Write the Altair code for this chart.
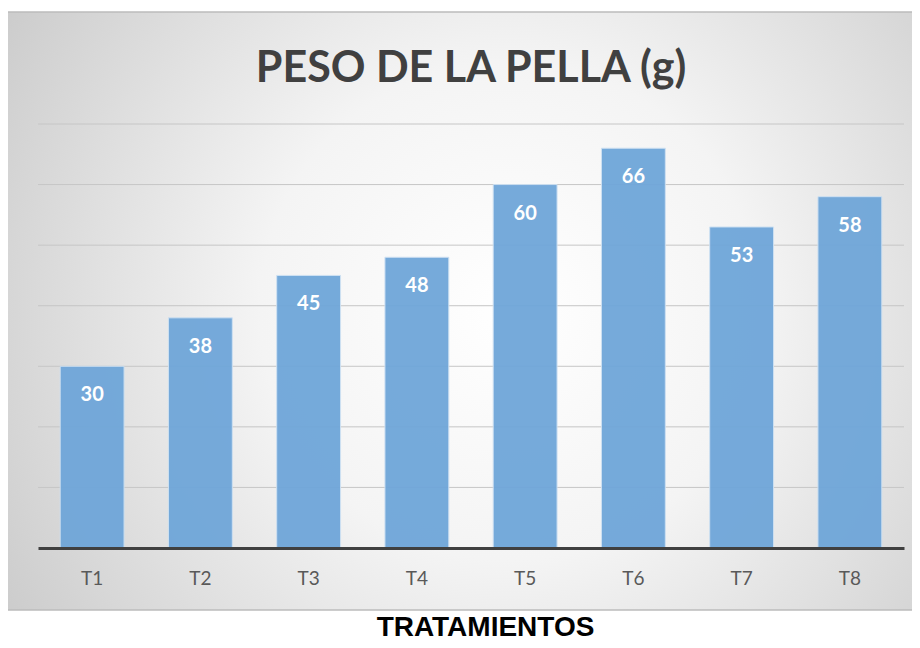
import altair as alt
import pandas as pd

categories = ["T1", "T2", "T3", "T4", "T5", "T6", "T7", "T8"]
values = [30, 38, 45, 48, 60, 66, 53, 58]
grid_values = [10, 20, 30, 40, 50, 60, 70]

df = pd.DataFrame({"trat": categories, "peso": values})
grid_df = pd.DataFrame({"g": grid_values})

W, H = 866, 424

bg_gradient = {
    "gradient": "radial",
    "x1": 0.55, "y1": 0.5, "r1": 0.0,
    "x2": 0.55, "y2": 0.5, "r2": 0.78,
    "stops": [
        {"offset": 0.0, "color": "#ffffff"},
        {"offset": 0.35, "color": "#f4f4f4"},
        {"offset": 1.0, "color": "#bdbdbd"},
    ],
}

yscale = alt.Scale(domain=[0, 70], nice=False)

background = alt.Chart(alt.Data(values=[{"k": 1}])).mark_rect(
    fill=bg_gradient, stroke="#bcbcbc", strokeWidth=1.5
).encode(
    x=alt.value(-31), x2=alt.value(W + 16),
    y=alt.value(-112), y2=alt.value(H + 62),
)

grid = alt.Chart(grid_df).mark_rule(color="#c6c6c6", strokeWidth=1).encode(
    y=alt.Y("g:Q", scale=yscale, axis=None),
    x=alt.value(0), x2=alt.value(W),
)

xenc = alt.X(
    "trat:N", sort=categories,
    scale=alt.Scale(paddingInner=0.41, paddingOuter=0.205),
    axis=alt.Axis(
        title="TRATAMIENTOS", titleFont="Liberation Sans", titleFontSize=28,
        titleFontWeight="bold", titleColor="#000000", titleBaseline="alphabetic",
        titleX=447, titleY=87, titleAnchor="start", titleAlign="center",
        labelFont="Lato", labelFontSize=19, labelColor="#595959", labelAngle=0,
        labelPadding=21, ticks=False, tickSize=0,
        domainColor="#404040", domainWidth=3, grid=False, zindex=1,
    ),
)
yenc = alt.Y("peso:Q", scale=yscale, axis=None)

bars = alt.Chart(df).mark_bar(
    color="#6fa6d9", stroke="#cde0f2", strokeWidth=1, opacity=0.95
).encode(x=xenc, y=yenc)

labels = alt.Chart(df).mark_text(
    font="Lato", fontSize=20, fontWeight="bold", color="#ffffff",
    baseline="alphabetic", dy=35,
).encode(
    x=alt.X("trat:N", sort=categories),
    y=alt.Y("peso:Q", scale=yscale),
    text=alt.Text("peso:Q"),
)

chart = alt.layer(background, grid, bars, labels).properties(
    width=W, height=H,
    padding={"left": 30, "top": 116, "right": 8, "bottom": 92},
    autosize=alt.AutoSizeParams(type="none"),
    title=alt.TitleParams(
        "PESO DE LA PELLA (g)", font="Lato", fontSize=43, fontWeight="bold",
        color="#404040", anchor="middle", baseline="alphabetic", offset=41, dy=155,
    ),
).configure_view(stroke=None)

chart.save("out.html", embed_options={"renderer": "svg", "actions": False})
